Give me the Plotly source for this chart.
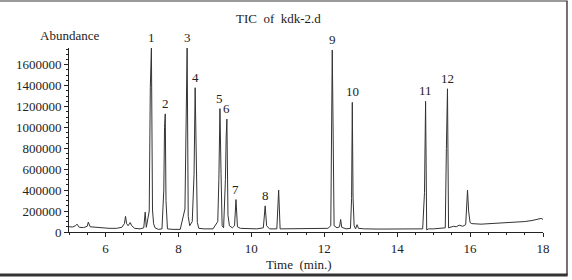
import plotly.graph_objects as go

# Chromatogram trace points (retention time in min, abundance)
time_min = [
    5.00, 5.10, 5.18, 5.22, 5.28, 5.40, 5.50, 5.53, 5.58, 5.70, 5.90, 6.10, 6.30, 6.45,
    6.52, 6.55, 6.58, 6.62, 6.68, 6.72, 6.80, 6.95, 7.05, 7.09, 7.12, 7.16, 7.20, 7.23,
    7.26, 7.29, 7.32, 7.36, 7.45, 7.55, 7.60, 7.62, 7.64, 7.66, 7.70, 7.85, 8.05, 8.18,
    8.21, 8.24, 8.27, 8.31, 8.38, 8.43, 8.46, 8.49, 8.52, 8.56, 8.70, 8.95, 9.08, 9.11,
    9.14, 9.17, 9.20, 9.24, 9.29, 9.31, 9.33, 9.36, 9.40, 9.48, 9.54, 9.58, 9.62, 9.70,
    9.90, 10.15, 10.33, 10.38, 10.42, 10.50, 10.70, 10.75, 10.79, 10.95, 11.30, 11.70,
    12.10, 12.18, 12.20, 12.22, 12.24, 12.27, 12.35, 12.42, 12.45, 12.48, 12.60, 12.72,
    12.75, 12.77, 12.79, 12.82, 12.86, 12.90, 12.94, 13.10, 13.50, 13.90, 14.30, 14.70,
    14.75, 14.78, 14.81, 14.86, 15.00, 15.20, 15.32, 15.35, 15.38, 15.41, 15.45, 15.55,
    15.62, 15.70, 15.80, 15.88, 15.93, 15.96, 16.00, 16.05, 16.30, 16.60, 16.90, 17.20,
    17.50, 17.70, 17.85, 17.95, 18.00,
]
abundance = [
    50000, 48000, 60000, 75000, 45000, 42000, 55000, 95000, 50000, 45000, 40000, 35000, 35000, 45000,
    80000, 150000, 80000, 60000, 90000, 60000, 35000, 30000, 40000, 190000, 45000, 120000, 200000, 1380000,
    1760000, 210000, 80000, 40000, 25000, 30000, 400000, 1000000, 1130000, 300000, 30000, 25000, 25000, 220000,
    1380000, 1760000, 150000, 60000, 100000, 550000, 1380000, 560000, 90000, 35000, 30000, 30000, 100000, 500000,
    1180000, 560000, 60000, 40000, 500000, 900000, 1080000, 160000, 60000, 40000, 60000, 310000, 50000, 35000,
    30000, 30000, 40000, 250000, 60000, 30000, 30000, 400000, 30000, 30000, 28000, 30000,
    35000, 60000, 1150000, 1740000, 1100000, 60000, 40000, 50000, 120000, 45000, 30000, 35000,
    320000, 1240000, 330000, 60000, 30000, 70000, 35000, 30000, 28000, 30000, 30000, 30000,
    380000, 1250000, 20000, 30000, 30000, 35000, 40000, 800000, 1370000, 40000, 45000, 55000,
    50000, 65000, 55000, 70000, 400000, 200000, 90000, 80000, 75000, 80000, 85000, 95000,
    100000, 110000, 125000, 130000, 120000,
]

# Labelled peaks
peak_labels = ["1", "2", "3", "4", "5", "6", "7", "8", "9", "10", "11", "12"]
peak_times = [7.26, 7.64, 8.24, 8.46, 9.14, 9.33, 9.58, 10.38, 12.22, 12.77, 14.78, 15.38]
peak_heights = [1760000, 1130000, 1760000, 1380000, 1180000, 1080000, 310000, 250000, 1740000, 1240000, 1250000, 1370000]

x_ticks = [6, 8, 10, 12, 14, 16, 18]
y_ticks = [0, 200000, 400000, 600000, 800000, 1000000, 1200000, 1400000, 1600000]

FONT = "Liberation Serif"
INK = "#222222"

fig = go.Figure()
fig.add_trace(go.Scatter(
    x=time_min, y=abundance, mode="lines",
    line=dict(color="#333333", width=1), hoverinfo="skip", showlegend=False,
))

for lab, t, h in zip(peak_labels, peak_times, peak_heights):
    fig.add_annotation(x=t, y=h, text=lab, showarrow=False, xanchor="center",
                       yanchor="bottom", yshift=1,
                       font=dict(family=FONT, size=13, color=INK))

fig.add_annotation(xref="paper", yref="paper", x=0.441, y=1.158, text="TIC  of  kdk-2.d",
                   showarrow=False, xanchor="center", yanchor="middle",
                   font=dict(family=FONT, size=13, color=INK))
fig.add_annotation(xref="paper", yref="paper", x=0.0, y=1.07, text="Abundance",
                   showarrow=False, xanchor="center", yanchor="middle",
                   font=dict(family=FONT, size=13, color=INK))
fig.add_annotation(xref="paper", yref="paper", x=0.485, y=-0.178, text="Time  (min.)",
                   showarrow=False, xanchor="center", yanchor="middle",
                   font=dict(family=FONT, size=13, color=INK))

# frame lines around the picture
fig.add_shape(type="line", xref="paper", yref="paper", x0=-0.15, x1=1.052, y0=1.2554, y1=1.2554,
              line=dict(color="#9a9a9a", width=2))
fig.add_shape(type="line", xref="paper", yref="paper", x0=1.0506, x1=1.0506, y0=1.2554, y1=-0.2337,
              line=dict(color="#444444", width=1.5))
fig.add_shape(type="line", xref="paper", yref="paper", x0=-0.15, x1=1.052, y0=-0.2337, y1=-0.2337,
              line=dict(color="#333333", width=3))

fig.update_xaxes(range=[5, 18], tickvals=x_ticks, ticks="outside", ticklen=4, tickwidth=1,
                 tickcolor=INK, showline=True, linecolor=INK, linewidth=1, showgrid=False,
                 zeroline=False, tickfont=dict(family=FONT, size=13, color=INK),
                 minor=dict(dtick=0.5, ticks="outside", ticklen=2, tickcolor=INK))
fig.update_yaxes(range=[0, 1760000], tickvals=y_ticks, ticktext=[str(v) for v in y_ticks],
                 ticks="outside", ticklen=4, tickwidth=1, tickcolor=INK, showline=True,
                 linecolor=INK, linewidth=1, showgrid=False, zeroline=False,
                 tickfont=dict(family=FONT, size=13, color=INK),
                 minor=dict(dtick=50000, ticks="outside", ticklen=2, tickcolor=INK))

fig.update_layout(width=572, height=280, margin=dict(l=69, r=29, t=48, b=48),
                  paper_bgcolor="white", plot_bgcolor="white")

fig.write_html("out.html")
